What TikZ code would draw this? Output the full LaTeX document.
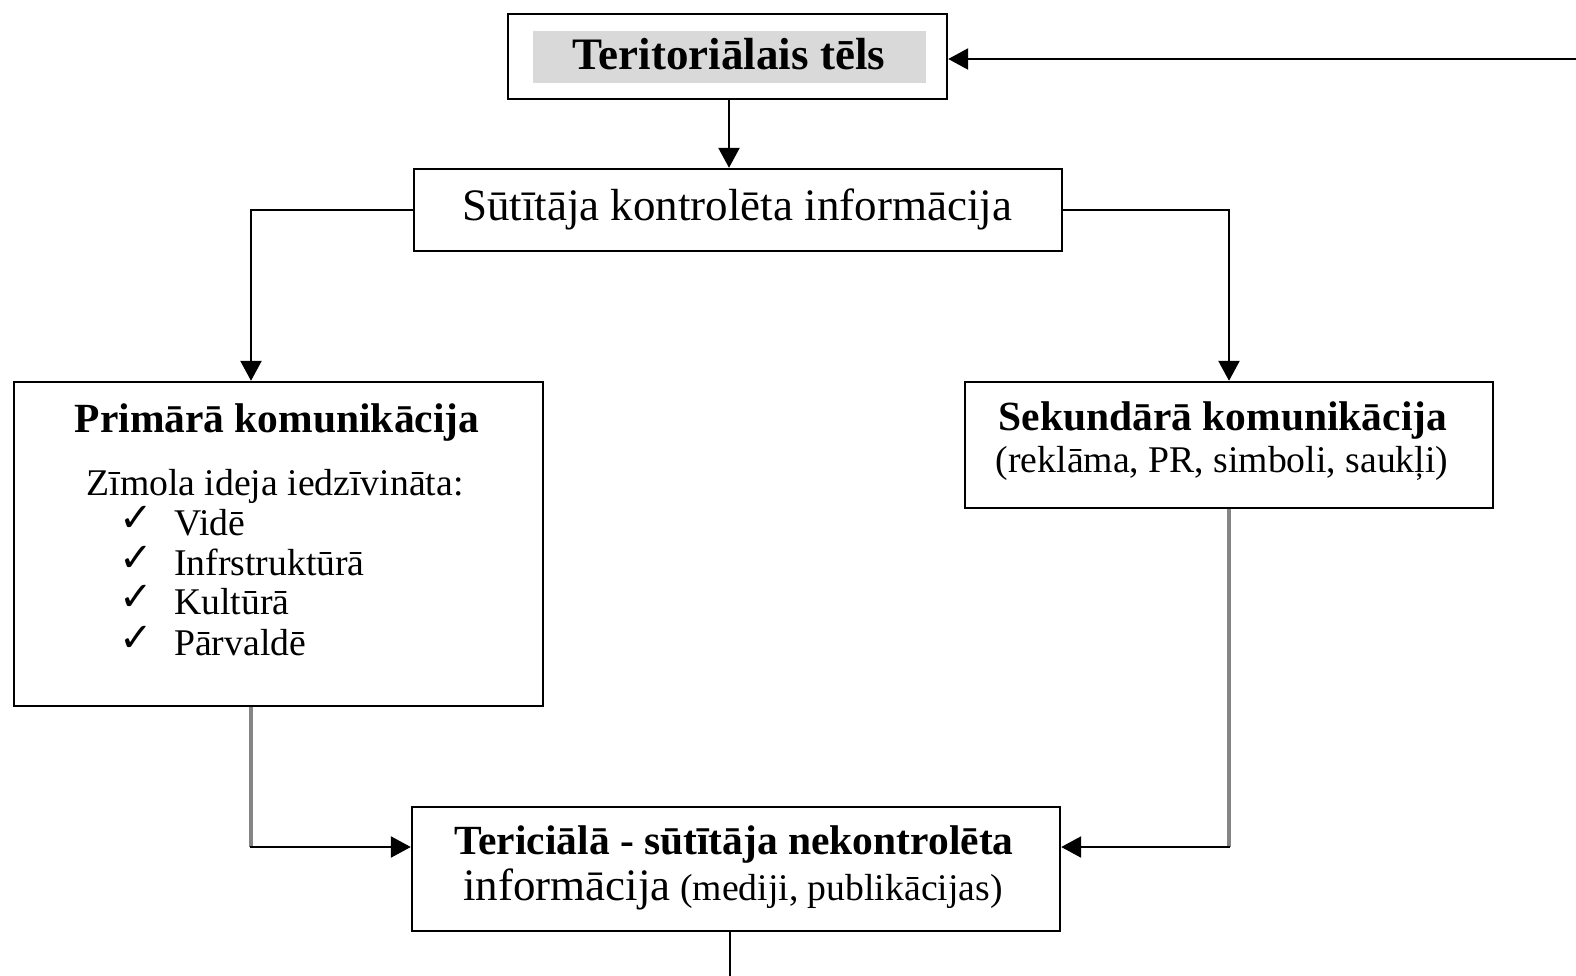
\documentclass[tikz,border=0pt]{standalone}
\usepackage{fontspec}
\setmainfont{Liberation Serif}
\newfontfamily\chk{DejaVu Sans}
\usetikzlibrary{arrows.meta,calc}
\definecolor{boxgray}{HTML}{D9D9D9}
\definecolor{linegray}{HTML}{858585}
\tikzset{
  boxnode/.style={draw=black, line width=2.4pt, inner sep=0pt, fill=white},
  conn/.style={line width=2.4pt, draw=black},
  arr/.style={conn, -{Triangle[length=20pt,width=21pt]}},
  grayconn/.style={line width=3.4pt, draw=linegray},
  big/.style={font=\fontsize{45}{54}\selectfont},
  head/.style={font=\bfseries\fontsize{41.5}{50}\selectfont},
  body/.style={font=\fontsize{37.7}{45}\selectfont},
  txt/.style={inner sep=0pt, anchor=base},
}
\begin{document}
\begin{tikzpicture}[x=1pt,y=-1pt]
\useasboundingbox (0,0) rectangle (1576,976);
% boxes
\node[boxnode, minimum width=439pt, minimum height=85pt] (top) at (727.5,56.5) {};
\node[boxnode, minimum width=648pt, minimum height=82pt] (sut) at (738,210) {};
\node[boxnode, minimum width=529pt, minimum height=324pt] (prim) at (278.5,544) {};
\node[boxnode, minimum width=528pt, minimum height=126pt] (sek) at (1229,445) {};
\node[boxnode, minimum width=648pt, minimum height=124pt] (ter) at (736,869) {};
% gray band in top box
\node[fill=boxgray, inner sep=0pt, minimum width=393pt, minimum height=52pt] (band) at (729.5,57) {};
% texts
\node[txt, font=\bfseries\fontsize{45}{54}\selectfont] (t1) at (729,70) {Teritoriālais tēls};
\node[txt, big] (t2) at (737,221) {Sūtītāja kontrolēta informācija};
\node[txt, head] (t3) at (277,432) {Primārā komunikācija};
\node[txt, body] (t4) at (275,495) {Zīmola ideja iedzīvināta:};
\node[txt, body, anchor=base west] (i1) at (174,535) {Vidē};
\node[txt, body, anchor=base west] (i2) at (174,575) {Infrstruktūrā};
\node[txt, body, anchor=base west] (i3) at (174,614) {Kultūrā};
\node[txt, body, anchor=base west] (i4) at (174,655) {Pārvaldē};
\foreach \y/\n in {519/c1,559/c2,598/c3,639/c4}{
  \node[inner sep=0pt, anchor=center, font=\chk\fontsize{40}{48}\selectfont] (\n) at (136,\y) {✓};
}
\node[txt, head] (t5) at (1223,430) {Sekundārā komunikācija};
\node[txt, body] (t6) at (1222,472) {(reklāma, PR, simboli, saukļi)};
\node[txt, head] (t7) at (734,854) {Tericiālā - sūtītāja nekontrolēta};
\node[txt] (t8) at (733,900) {{\fontsize{45}{54}\selectfont informācija}{\fontsize{37.7}{45}\selectfont\ (mediji, publikācijas)}};
% helper coordinates
\coordinate (pl) at (251,0);
\coordinate (yj) at (0,847);
\coordinate (rin) at (1576,59);
\coordinate (bot) at (730,976);
% connectors
\draw[arr] (rin) -- (top.east |- rin);
\draw[arr] (top.south -| 729,0) -- (sut.north -| 729,0);
\draw[arr] (sut.west) -| (prim.north -| pl);
\draw[arr] (sut.east) -| (sek.north);
\draw[grayconn] (prim.south -| pl) -- (pl |- yj);
\draw[arr] ($(pl |- yj)+(-1.2,0)$) -- (ter.west |- yj);
\draw[grayconn] (sek.south) -- (sek.south |- yj);
\draw[arr] ($(sek.south |- yj)+(1.2,0)$) -- (ter.east |- yj);
\draw[conn] (ter.south -| bot) -- (bot);
\end{tikzpicture}
\end{document}
